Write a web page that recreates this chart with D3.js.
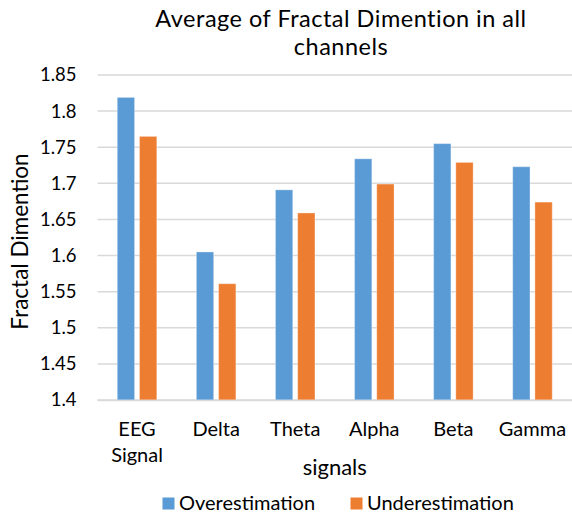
<!DOCTYPE html>
<html lang="en">
    <head>
        <meta charset="utf-8"/>
        <script src="https://d3js.org/d3.v7.min.js"></script>
        <style>
            body { margin: 0; background: #fff; }
            text { font-family: Lato, "Open Sans", sans-serif; fill: #000; }
        </style>
    </head>
    <body>
        <div id="chart"></div>
    </body>
    <script>
        var categories = [["EEG", "Signal"], ["Delta"], ["Theta"], ["Alpha"], ["Beta"], ["Gamma"]];
        var seriesNames = ["Overestimation", "Underestimation"];
        var overestimation = [1.819, 1.605, 1.691, 1.734, 1.755, 1.723];
        var underestimation = [1.765, 1.561, 1.659, 1.699, 1.729, 1.674];
        var yTicks = [1.4, 1.45, 1.5, 1.55, 1.6, 1.65, 1.7, 1.75, 1.8, 1.85];
        var colors = ["#5b9bd5", "#ed7d31"];

        var W = 572, H = 513;
        var margin = {top: 75, right: 0, bottom: 113, left: 97.5};
        var width = W - margin.left - margin.right;
        var height = H - margin.top - margin.bottom;

        var svg = d3.select("#chart")
            .append("svg")
                .attr("width", W)
                .attr("height", H);

        var g = svg.append("g")
            .attr("transform", "translate(" + margin.left + "," + margin.top + ")");

        var y = d3.scaleLinear()
            .domain([1.4, 1.85])
            .range([height, 0]);

        var x = d3.scaleBand()
            .domain(d3.range(categories.length))
            .range([0, width])
            .paddingInner(0.5)
            .paddingOuter(0.25);

        var xs = d3.scaleBand()
            .domain([0, 1])
            .range([0, x.bandwidth()])
            .paddingInner(0.22);

        // gridlines
        g.selectAll(".grid")
            .data(yTicks)
            .enter()
            .append("line")
                .attr("x1", 0)
                .attr("x2", width)
                .attr("y1", function(d) { return y(d); })
                .attr("y2", function(d) { return y(d); })
                .style("stroke", "#d9d9d9")
                .style("stroke-width", 1.5);

        // y tick labels
        var yAxis = g.append("g")
            .call(d3.axisLeft(y).tickValues(yTicks).tickSize(0).tickPadding(21)
                .tickFormat(function(d) { return String(+d.toFixed(2)); }));
        yAxis.select(".domain").remove();
        yAxis.selectAll("text")
            .style("font-size", "18.5px")
            .style("font-family", "Lato, sans-serif");

        // bars
        var series = [overestimation, underestimation];
        series.forEach(function(vals, s) {
            g.selectAll(".bar-" + s)
                .data(vals)
                .enter()
                .append("rect")
                    .attr("x", function(d, i) { return x(i) + xs(s); })
                    .attr("y", function(d) { return y(d); })
                    .attr("width", xs.bandwidth())
                    .attr("height", function(d) { return height - y(d); })
                    .style("fill", colors[s])
                    .style("stroke", "#ffffff")
                    .style("stroke-opacity", 0.35)
                    .style("stroke-width", 1);
        });

        // x axis line
        g.append("line")
            .attr("x1", 0)
            .attr("x2", width)
            .attr("y1", height + 0.5)
            .attr("y2", height + 0.5)
            .style("stroke", "#d9d9d9")
            .style("stroke-width", 1.5);

        // x tick labels
        var xl = g.selectAll(".xlabel")
            .data(categories)
            .enter()
            .append("text")
                .attr("x", function(d, i) { return x(i) + x.bandwidth() / 2; })
                .attr("y", height + 36)
                .attr("text-anchor", "middle")
                .style("font-size", "20px");
        xl.selectAll("tspan")
            .data(function(d) { return d; })
            .enter()
            .append("tspan")
                .attr("x", function() { return this.parentNode.getAttribute("x"); })
                .attr("dy", function(d, i) { return i === 0 ? 0 : 25.5; })
                .text(function(d) { return d; });

        // title (two lines)
        var titleLines = ["Average of Fractal Dimention in all", "channels"];
        svg.selectAll(".title")
            .data(titleLines)
            .enter()
            .append("text")
                .attr("x", 341)
                .attr("y", function(d, i) { return 27 + i * 28; })
                .attr("text-anchor", "middle")
                .style("font-size", "23.5px")
                .style("letter-spacing", "0.5px")
                .text(function(d) { return d; });

        // axis titles
        svg.append("text")
            .attr("transform", "translate(28," + (margin.top + height / 2 + 4) + ") rotate(-90)")
            .attr("text-anchor", "middle")
            .style("font-size", "22.5px")
            .text("Fractal Dimention");

        svg.append("text")
            .attr("x", margin.left + width / 2)
            .attr("y", 475)
            .attr("text-anchor", "middle")
            .style("font-size", "22px")
            .text("signals");

        // legend
        var legendX = [162.5, 350.5];
        var legend = svg.selectAll(".legend")
            .data(seriesNames)
            .enter()
            .append("g")
                .attr("transform", function(d, i) { return "translate(" + legendX[i] + ",497.5)"; });
        legend.append("rect")
            .attr("width", 12)
            .attr("height", 12)
            .style("fill", function(d, i) { return colors[i]; });
        legend.append("text")
            .attr("x", 16.5)
            .attr("y", 12.5)
            .style("font-size", "20px")
            .text(function(d) { return d; });
    </script>
</html>
